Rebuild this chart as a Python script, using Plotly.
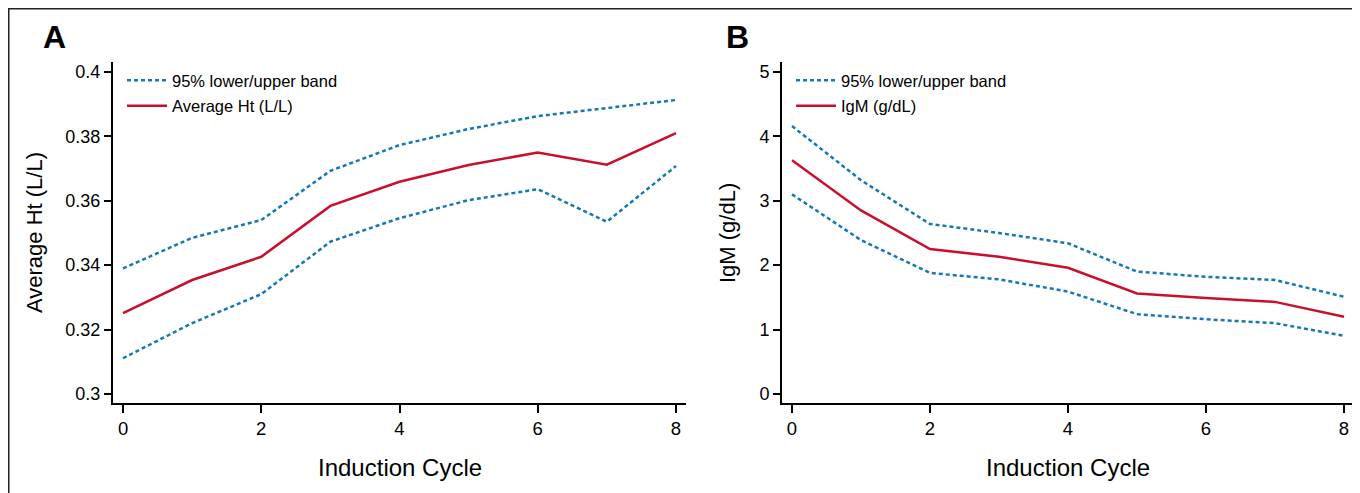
import plotly.graph_objects as go

# ---------------- data ----------------
cycles = [0, 1, 2, 3, 4, 5, 6, 7, 8]

ht_upper = [0.3390, 0.3485, 0.3540, 0.3693, 0.3773, 0.3823, 0.3863, 0.3887, 0.3913]
ht_avg   = [0.3251, 0.3354, 0.3426, 0.3584, 0.3659, 0.3711, 0.3750, 0.3712, 0.3810]
ht_lower = [0.3111, 0.3220, 0.3310, 0.3473, 0.3546, 0.3602, 0.3636, 0.3535, 0.3708]

igm_upper = [4.16, 3.32, 2.64, 2.50, 2.34, 1.90, 1.82, 1.77, 1.51]
igm_avg   = [3.63, 2.85, 2.25, 2.13, 1.96, 1.56, 1.49, 1.43, 1.20]
igm_lower = [3.10, 2.39, 1.88, 1.78, 1.59, 1.24, 1.16, 1.10, 0.905]

x_ticks = [0, 2, 4, 6, 8]
ya_ticks = [0.30, 0.32, 0.34, 0.36, 0.38, 0.40]
ya_labels = ["0.3", "0.32", "0.34", "0.36", "0.38", "0.4"]
yb_ticks = [0, 1, 2, 3, 4, 5]
yb_labels = ["0", "1", "2", "3", "4", "5"]

band_name = "95% lower/upper band"
avg_name_a = "Average Ht (L/L)"
avg_name_b = "IgM (g/dL)"
x_title = "Induction Cycle"
ya_title = "Average Ht (L/L)"
yb_title = "IgM (g/dL)"

# ---------------- style ----------------
W, H = 1360, 493
OFF = 8  # page body margin in front of the figure
BLUE = "#1479B3"
RED = "#C8102E"
DASH = "4px,3px"
SANS = "Liberation Sans, Arial, Helvetica, sans-serif"


def px_x(p):
    return (p - OFF) / W


def px_y(p):
    return 1 - (p - OFF) / H


fig = go.Figure()

# Panel A
fig.add_trace(go.Scatter(x=cycles, y=ht_upper, mode="lines", name=band_name,
                         line=dict(color=BLUE, width=2.5, dash=DASH),
                         legend="legend", legendgroup="a1", xaxis="x", yaxis="y"))
fig.add_trace(go.Scatter(x=cycles, y=ht_lower, mode="lines", name=band_name,
                         line=dict(color=BLUE, width=2.5, dash=DASH), showlegend=False,
                         legend="legend", legendgroup="a1", xaxis="x", yaxis="y"))
fig.add_trace(go.Scatter(x=cycles, y=ht_avg, mode="lines", name=avg_name_a,
                         line=dict(color=RED, width=2.5),
                         legend="legend", legendgroup="a2", xaxis="x", yaxis="y"))

# Panel B
fig.add_trace(go.Scatter(x=cycles, y=igm_upper, mode="lines", name=band_name,
                         line=dict(color=BLUE, width=2.5, dash=DASH),
                         legend="legend2", legendgroup="b1", xaxis="x2", yaxis="y2"))
fig.add_trace(go.Scatter(x=cycles, y=igm_lower, mode="lines", name=band_name,
                         line=dict(color=BLUE, width=2.5, dash=DASH), showlegend=False,
                         legend="legend2", legendgroup="b1", xaxis="x2", yaxis="y2"))
fig.add_trace(go.Scatter(x=cycles, y=igm_avg, mode="lines", name=avg_name_b,
                         line=dict(color=RED, width=2.5),
                         legend="legend2", legendgroup="b2", xaxis="x2", yaxis="y2"))

xaxis_common = dict(
    range=[-0.145, 8.145], tickmode="array", tickvals=x_ticks,
    ticks="outside", ticklen=8, tickwidth=1.5, tickcolor="black",
    showline=True, linewidth=2, linecolor="black",
    showgrid=False, zeroline=False,
    tickfont=dict(family=SANS, size=18.5, color="black"),
)
yaxis_common = dict(
    ticks="outside", ticklen=7, tickwidth=1.5, tickcolor="black",
    showline=True, linewidth=2, linecolor="black",
    showgrid=False, zeroline=False,
    tickfont=dict(family=SANS, size=18, color="black"),
)

y_dom = [px_y(403), px_y(62)]

legend_common = dict(
    xanchor="left", yanchor="top", traceorder="grouped", tracegroupgap=1,
    itemwidth=40, bgcolor="rgba(0,0,0,0)",
    font=dict(family=SANS, size=16.5, color="black"),
)

fig.update_layout(
    width=W, height=H,
    margin=dict(l=0, r=0, t=0, b=0),
    paper_bgcolor="white", plot_bgcolor="white",
    xaxis=dict(domain=[px_x(113), px_x(686)], anchor="y", **xaxis_common),
    yaxis=dict(domain=y_dom, anchor="x", range=[0.2972, 0.4031],
               tickmode="array", tickvals=ya_ticks, ticktext=ya_labels, **yaxis_common),
    xaxis2=dict(domain=[px_x(782), px_x(1354)], anchor="y2", **xaxis_common),
    yaxis2=dict(domain=y_dom, anchor="x2", range=[-0.14, 5.155],
                tickmode="array", tickvals=yb_ticks, ticktext=yb_labels, **yaxis_common),
    legend=dict(x=px_x(122), y=px_y(63), **legend_common),
    legend2=dict(x=px_x(791), y=px_y(63), **legend_common),
    shapes=[
        dict(type="line", xref="paper", yref="paper", x0=0, x1=1, y0=1, y1=1,
             line=dict(color="#222", width=3)),
        dict(type="line", xref="paper", yref="paper", x0=0, x1=0, y0=1, y1=0,
             line=dict(color="#222", width=3)),
    ],
    annotations=[
        dict(text="<b>A</b>", x=px_x(54), y=px_y(37), xref="paper", yref="paper",
             xanchor="center", yanchor="middle",
             showarrow=False, font=dict(family=SANS, size=32, color="black")),
        dict(text="<b>B</b>", x=px_x(737), y=px_y(37), xref="paper", yref="paper",
             xanchor="center", yanchor="middle",
             showarrow=False, font=dict(family=SANS, size=32, color="black")),
        dict(text=ya_title, x=px_x(34), y=px_y(233), xref="paper", yref="paper",
             xanchor="center", yanchor="middle",
             textangle=-90, showarrow=False, font=dict(family=SANS, size=22, color="black")),
        dict(text=yb_title, x=px_x(727), y=px_y(233), xref="paper", yref="paper",
             xanchor="center", yanchor="middle",
             textangle=-90, showarrow=False, font=dict(family=SANS, size=22, color="black")),
        dict(text=x_title, x=px_x(400), y=px_y(467), xref="paper", yref="paper",
             xanchor="center", yanchor="middle",
             showarrow=False, font=dict(family=SANS, size=24, color="black")),
        dict(text=x_title, x=px_x(1068), y=px_y(467), xref="paper", yref="paper",
             xanchor="center", yanchor="middle",
             showarrow=False, font=dict(family=SANS, size=24, color="black")),
    ],
)

fig.write_html("out.html")
